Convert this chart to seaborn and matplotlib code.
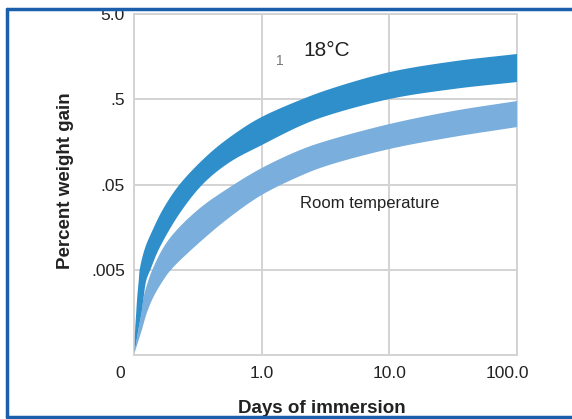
import matplotlib
matplotlib.use("Agg")
import matplotlib.pyplot as plt
import matplotlib.transforms as mtransforms
from matplotlib.lines import Line2D
from matplotlib.patches import Rectangle
import numpy as np
import seaborn as sns

# band edges (days, percent weight gain)
dark_top_x = [0.101, 0.102, 0.104, 0.106, 0.109, 0.111, 0.122, 0.141, 0.169, 0.229, 0.401, 0.677, 1.0, 2.0, 3.43, 10, 31.5, 100]
dark_top_y = [0.00053, 0.00098, 0.00156, 0.0024, 0.0038, 0.0051, 0.0090, 0.0150, 0.0258, 0.0507, 0.120, 0.218, 0.31, 0.490, 0.66, 1.04, 1.39, 1.70]
dark_bot_x = [0.101, 0.108, 0.1145, 0.119, 0.125, 0.135, 0.157, 0.229, 0.353, 0.565, 1.0, 2.0, 3.19, 10, 31.5, 100]
dark_bot_y = [0.00053, 0.00098, 0.00156, 0.0024, 0.0038, 0.0051, 0.0088, 0.0232, 0.0521, 0.0918, 0.145, 0.243, 0.318, 0.503, 0.659, 0.797]

light_top_x = [0.101, 0.108, 0.1145, 0.119, 0.130, 0.140, 0.169, 0.2095, 0.329, 0.565, 1.0, 2.0, 3.19, 10, 31.5, 100]
light_top_y = [0.00053, 0.00098, 0.00156, 0.0024, 0.0038, 0.0051, 0.0090, 0.0139, 0.0265, 0.0467, 0.078, 0.127, 0.162, 0.256, 0.364, 0.477]
light_bot_x = [0.101, 0.115, 0.126, 0.142, 0.170, 0.197, 0.329, 0.565, 1.0, 2.0, 3.19, 10, 31.5, 100]
light_bot_y = [0.00053, 0.00098, 0.00156, 0.0024, 0.0038, 0.0051, 0.0106, 0.0208, 0.0377, 0.0629, 0.0824, 0.1304, 0.1804, 0.236]

x_ticks = [0.1, 1, 10, 100]
x_labels = ["0", "1.0", "10.0", "100.0"]
y_ticks = [0.005, 0.05, 0.5, 5]
y_labels = [".005", ".05", ".5", "5.0"]


def smooth(xs, ys, n=24):
    # centripetal catmull-rom through the read points, done in log-log space
    P = np.column_stack([np.log10(xs) * 127.7, np.log10(ys) * 85.25])
    P = np.vstack([2 * P[0] - P[1], P, 2 * P[-1] - P[-2]])
    out = []
    for i in range(1, len(P) - 2):
        p0, p1, p2, p3 = P[i - 1], P[i], P[i + 1], P[i + 2]
        t0 = 0.0
        t1 = t0 + np.linalg.norm(p1 - p0) ** 0.5
        t2 = t1 + np.linalg.norm(p2 - p1) ** 0.5
        t3 = t2 + np.linalg.norm(p3 - p2) ** 0.5
        t = np.linspace(t1, t2, n, endpoint=False)[:, None]
        a1 = (t1 - t) / (t1 - t0) * p0 + (t - t0) / (t1 - t0) * p1
        a2 = (t2 - t) / (t2 - t1) * p1 + (t - t1) / (t2 - t1) * p2
        a3 = (t3 - t) / (t3 - t2) * p2 + (t - t2) / (t3 - t2) * p3
        b1 = (t2 - t) / (t2 - t0) * a1 + (t - t0) / (t2 - t0) * a2
        b2 = (t3 - t) / (t3 - t1) * a2 + (t - t1) / (t3 - t1) * a3
        out.append((t2 - t) / (t2 - t1) * b1 + (t - t1) / (t2 - t1) * b2)
    out.append(P[-2][None, :])
    C = np.vstack(out)
    return 10 ** (C[:, 0] / 127.7), 10 ** (C[:, 1] / 85.25)


def band(ax, tx, ty, bx, by, color, z):
    ux, uy = smooth(tx, ty)
    lx, ly = smooth(bx, by)
    ax.fill(np.concatenate([ux, lx[::-1]]), np.concatenate([uy, ly[::-1]]),
            color=color, lw=0, zorder=z)


sns.set_theme(style="white")
plt.rcParams["font.family"] = ["Liberation Sans", "DejaVu Sans"]

fig = plt.figure(figsize=(5.72, 4.19), dpi=100)
ax = fig.add_axes([0.2343, 0.1527, 0.6696, 0.8138])
ax.set_xscale("log")
ax.set_yscale("log")

# light band first, dark band over it
band(ax, light_top_x, light_top_y, light_bot_x, light_bot_y, "#7aaedc", 3)
band(ax, dark_top_x, dark_top_y, dark_bot_x, dark_bot_y, "#2e8fcb", 4)

ax.set_xlim(0.1, 100)
ax.set_ylim(0.0005, 5)
ax.set_xticks(x_ticks)
ax.set_xticklabels(x_labels)
ax.set_yticks(y_ticks)
ax.set_yticklabels(y_labels)
ax.minorticks_off()
ax.tick_params(length=0, labelsize=12.5, colors="#222222")
ax.tick_params(axis="x", pad=8)
ax.tick_params(axis="y", pad=6.5)

ax.grid(True, color="#d3d3d3", lw=1.4, zorder=1)
for s in ax.spines.values():
    s.set_color("#d3d3d3")
    s.set_linewidth(1.4)

# nudge the end labels like the original
xl = ax.get_xticklabels()
xl[0].set_transform(xl[0].get_transform() + mtransforms.ScaledTranslation(-14 / 100, 0, fig.dpi_scale_trans))
xl[-1].set_transform(xl[-1].get_transform() + mtransforms.ScaledTranslation(-10 / 100, 0, fig.dpi_scale_trans))

ax.set_xlabel("Days of immersion", fontsize=13.5, fontweight="bold", color="#222222")
ax.set_ylabel("Percent weight gain", fontsize=13.5, fontweight="bold", color="#222222")
ax.xaxis.set_label_coords(0.491, -0.132)
ax.yaxis.set_label_coords(-0.157, 0.51)

ax.text(3.25, 1.87, "18°C", fontsize=15, color="#222222",
        ha="center", va="center", zorder=5)
ax.text(1.39, 1.42, "1", fontsize=10, color="#777777", ha="center", va="center", zorder=5)
ax.text(2.0, 0.0303, "Room temperature", fontsize=12, color="#222222",
        ha="left", va="center", zorder=5)

# white strip at the top and blue frame
fig.add_artist(Rectangle((0, 1 - 9 / 419), 1, 9 / 419, transform=fig.transFigure,
                         color="white", zorder=10))
border = "#1a5fab"
fig.add_artist(Line2D([7 / 572, 1.01], [1 - 9 / 419, 1 - 9 / 419], transform=fig.transFigure,
                      color=border, lw=2.5, zorder=11))
fig.add_artist(Line2D([7 / 572, 7 / 572], [1 - 9 / 419, 1 - 417 / 419], transform=fig.transFigure,
                      color=border, lw=2.5, zorder=11))
fig.add_artist(Line2D([7 / 572, 1.01], [1 - 417 / 419, 1 - 417 / 419], transform=fig.transFigure,
                      color=border, lw=2.5, zorder=11))

fig.savefig("out.png", dpi=100)
